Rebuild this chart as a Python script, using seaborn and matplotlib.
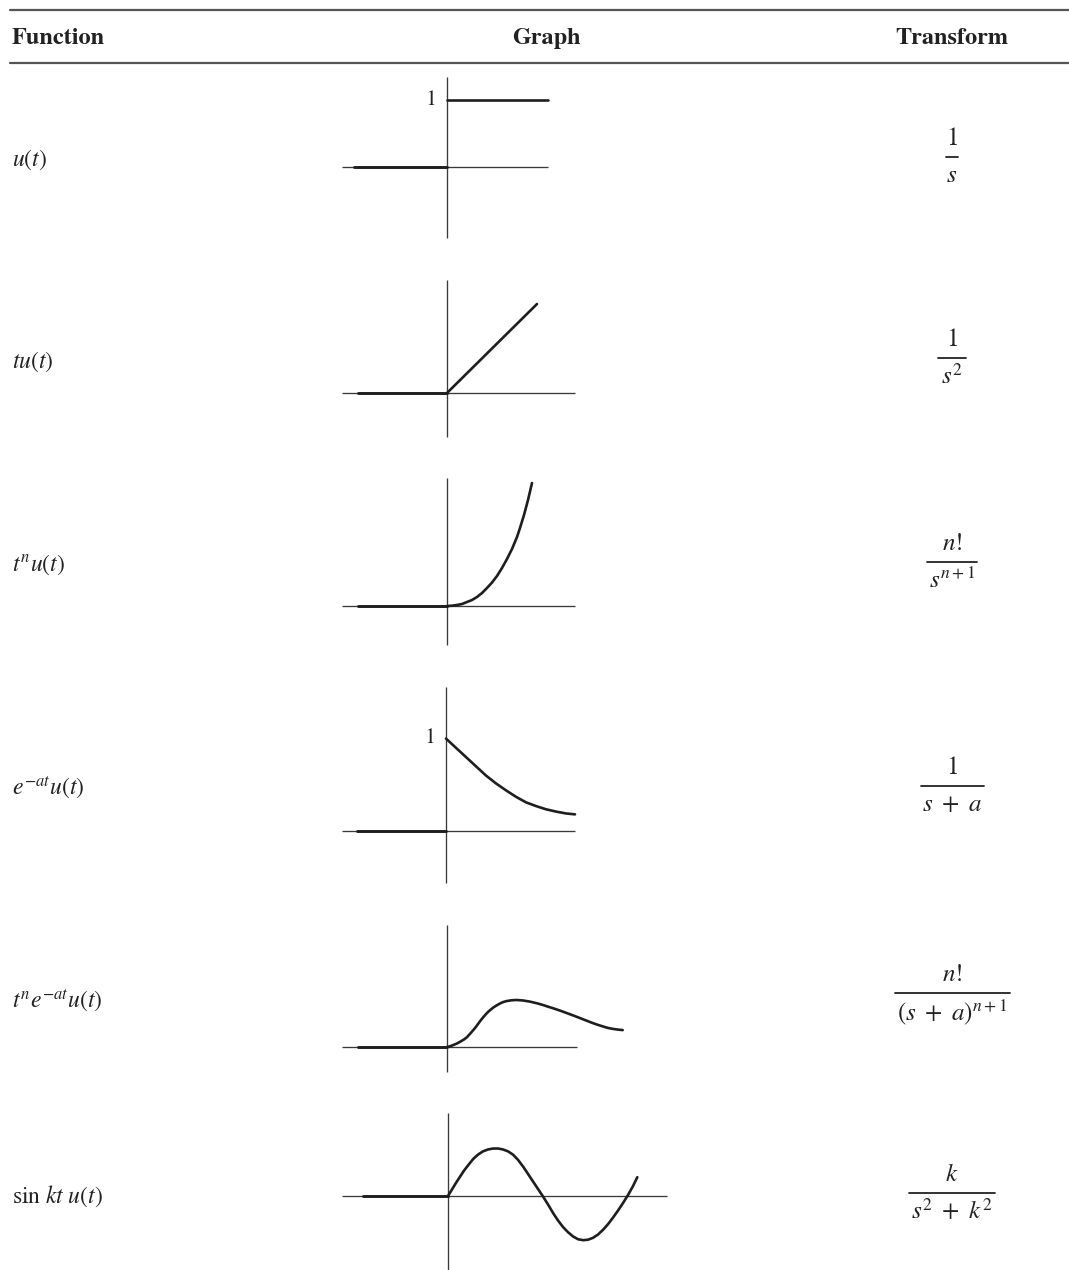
import numpy as np
import pandas as pd
import seaborn as sns
import matplotlib
matplotlib.use("Agg")
import matplotlib.pyplot as plt
from matplotlib.lines import Line2D

sns.set_style("white")
plt.rcParams["mathtext.fontset"] = "stix"
plt.rcParams["font.family"] = ["STIXGeneral", "DejaVu Serif"]

# table text
headers = ["Function", "Graph", "Transform"]
functions = [r"$u(t)$", r"$tu(t)$", r"$t^n u(t)$", r"$e^{-at}u(t)$",
             r"$t^n e^{-at}u(t)$", r"$\mathrm{sin}\ kt\ u(t)$"]
numerators = [r"$1$", r"$1$", r"$n!$", r"$1$", r"$n!$", r"$k$"]
denominators = [r"$s$", r"$s^2$", r"$s^{n+1}$", r"$s\ +\ a$",
                r"$(s\ +\ a)^{n+1}$", r"$s^2\ +\ k^2$"]

# curves (t in graph units, value in graph units)
step_t = [0.0, 1.01]
step_y = [1.0, 1.0]
ramp_t = [0.0, 0.9]
ramp_y = [0.0, 0.89]
power_t = [0.0, 0.05, 0.1, 0.15, 0.2, 0.25, 0.3, 0.35, 0.4, 0.45, 0.5,
           0.55, 0.6, 0.65, 0.7, 0.73, 0.77, 0.81, 0.85]
power_y = [0.0, 0.003, 0.01, 0.02, 0.04, 0.06, 0.09, 0.13, 0.18, 0.235, 0.30,
           0.38, 0.47, 0.57, 0.69, 0.78, 0.91, 1.06, 1.23]
decay_t = [0.0, 0.1, 0.2, 0.3, 0.4, 0.5, 0.6, 0.7, 0.8, 0.9, 1.0, 1.1, 1.2, 1.29]
decay_y = [1.0, 0.90, 0.80, 0.70, 0.60, 0.515, 0.44, 0.37, 0.31, 0.27,
           0.235, 0.21, 0.19, 0.18]
gamma_t = [0.0, 0.03, 0.06, 0.1, 0.13, 0.17, 0.2, 0.23, 0.263, 0.29, 0.31,
           0.34, 0.363, 0.39, 0.41, 0.44, 0.463, 0.5, 0.53, 0.56, 0.597, 0.65,
           0.697, 0.76, 0.83, 0.9, 0.95, 1.0, 1.063, 1.13, 1.2, 1.27, 1.33,
           1.39, 1.45, 1.51, 1.563, 1.61, 1.66, 1.71, 1.757]
gamma_y = [0.0, 0.015, 0.04, 0.075, 0.11, 0.16, 0.21, 0.28, 0.36, 0.43, 0.49,
           0.575, 0.635, 0.70, 0.745, 0.80, 0.84, 0.89, 0.925, 0.955, 0.978,
           0.995, 1.0, 0.99, 0.965, 0.93, 0.90, 0.865, 0.823, 0.775, 0.72,
           0.665, 0.615, 0.565, 0.515, 0.47, 0.435, 0.405, 0.385, 0.37, 0.36]
sine_t = [0.0, 0.04, 0.08, 0.12, 0.16, 0.2, 0.253, 0.3, 0.35, 0.4, 0.45,
          0.503, 0.55, 0.6, 0.65, 0.7, 0.753, 0.8, 0.853, 0.9, 0.947, 1.0,
          1.053, 1.1, 1.15, 1.2, 1.25, 1.3, 1.353, 1.4, 1.45, 1.5, 1.55, 1.6,
          1.65, 1.7, 1.75, 1.8, 1.85, 1.893]
sine_y = [0.0, 0.14, 0.28, 0.41, 0.54, 0.65, 0.79, 0.88, 0.95, 0.99, 1.01,
          1.01, 0.99, 0.95, 0.88, 0.77, 0.62, 0.47, 0.30, 0.15, 0.0, -0.18,
          -0.37, -0.52, -0.66, -0.77, -0.86, -0.92, -0.94, -0.93, -0.89,
          -0.82, -0.72, -0.6, -0.46, -0.31, -0.15, 0.02, 0.21, 0.40]
zero_start = [-0.93, -0.89, -0.89, -0.89, -0.89, -0.85]
unit_marks = [True, False, False, True, False, False]

curves = [(step_t, step_y), (ramp_t, ramp_y), (power_t, power_y),
          (decay_t, decay_y), (gamma_t, gamma_y), (sine_t, sine_y)]

W, H = 1069, 1270
fig = plt.figure(figsize=(W / 100, H / 100), dpi=100)

# layout of each little graph: origin px, px per unit (y), axis extents
rows = [
    dict(ox=447, oy=167, sy=67, h=(-1.05, 1.01), v=(-1.06, 1.34)),
    dict(ox=447, oy=393, sy=100, h=(-1.05, 1.28), v=(-0.44, 1.13)),
    dict(ox=447, oy=606, sy=100, h=(-1.05, 1.28), v=(-0.39, 1.28)),
    dict(ox=446, oy=831, sy=92.4, h=(-1.04, 1.29), v=(-0.56, 1.56)),
    dict(ox=447, oy=1047, sy=47, h=(-1.05, 1.30), v=(-0.53, 2.6)),
    dict(ox=448, oy=1196, sy=47, h=(-1.06, 2.19), v=(-1.62, 1.77)),
]
func_y = [160, 362, 565, 788, 1001, 1196]
bar_y = [157, 358, 562, 786, 993, 1193]
bar_w = [12, 28, 50, 63, 115, 86]

AX_COL = "#3a3a3a"
CURVE_COL = "#1e1e1e"

for i, r in enumerate(rows):
    left, right = 320, 700
    top = r["oy"] - r["v"][1] * r["sy"] - 10
    bottom = r["oy"] - r["v"][0] * r["sy"] + 10
    ax = fig.add_axes([left / W, 1 - bottom / H, (right - left) / W, (bottom - top) / H])
    ax.set_xlim((left - r["ox"]) / 100, (right - r["ox"]) / 100)
    ax.set_ylim((r["oy"] - bottom) / r["sy"], (r["oy"] - top) / r["sy"])
    ax.axis("off")
    ax.hlines(0, r["h"][0], r["h"][1], color=AX_COL, lw=0.95)
    ax.vlines(0, r["v"][0], r["v"][1], color=AX_COL, lw=0.95)
    base = pd.DataFrame({"t": [zero_start[i], 0.0], "y": [0.0, 0.0]})
    sns.lineplot(data=base, x="t", y="y", ax=ax, color=CURVE_COL, lw=2.1,
                 estimator=None, sort=False)
    t, y = curves[i]
    df = pd.DataFrame({"t": t, "y": y})
    sns.lineplot(data=df, x="t", y="y", ax=ax, color=CURVE_COL, lw=1.9,
                 estimator=None, sort=False)
    if unit_marks[i]:
        ax.text(-0.1, 1.0, "1", ha="right", va="center", fontsize=16, color="#222")

    fig.text(12 / W, 1 - func_y[i] / H, functions[i], ha="left", va="center",
             fontsize=17, color="#222")
    fig.text(952 / W, 1 - (bar_y[i] - 18) / H, numerators[i], ha="center",
             va="center", fontsize=18, color="#222")
    fig.text(952 / W, 1 - (bar_y[i] + 19) / H, denominators[i], ha="center",
             va="center", fontsize=18, color="#222")
    half = bar_w[i] / 2
    fig.add_artist(Line2D([(952 - half) / W, (952 + half) / W], [1 - bar_y[i] / H] * 2,
                          color="#222", lw=1.3))

# header rules and titles
for yy in (10, 63):
    fig.add_artist(Line2D([10 / W, 1.0], [1 - yy / H] * 2, color="#555", lw=1.6))
header_x = [12, 546, 952]
header_ha = ["left", "center", "center"]
for text, hx, ha in zip(headers, header_x, header_ha):
    fig.text(hx / W, 1 - 44 / H, text, ha=ha, va="baseline",
             fontsize=17.5, fontweight="bold", color="#222")

fig.savefig("out.png", dpi=100, facecolor="white")
